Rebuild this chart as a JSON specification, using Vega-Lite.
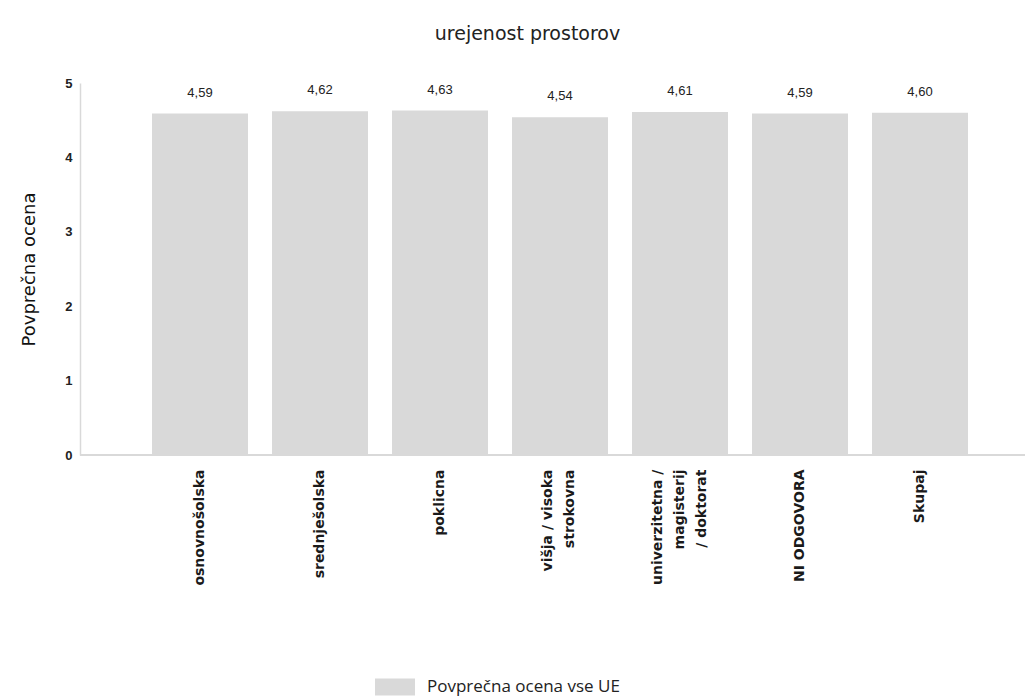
{
  "$schema": "https://vega.github.io/schema/vega-lite/v6.json",
  "autosize": {"type": "none"},
  "padding": {"left": 80, "top": 83, "right": 6, "bottom": 245},
  "width": 945,
  "height": 372,
  "background": "white",
  "title": {
    "text": "urejenost prostorov",
    "font": "DejaVu Sans",
    "fontSize": 19,
    "fontWeight": "normal",
    "color": "#222222",
    "anchor": "middle",
    "dx": -25,
    "offset": 33
  },
  "data": {
    "values": [
      {"kategorija": "osnovnošolska", "ocena": 4.59, "serija": "Povprečna ocena vse UE"},
      {"kategorija": "srednješolska", "ocena": 4.62, "serija": "Povprečna ocena vse UE"},
      {"kategorija": "poklicna", "ocena": 4.63, "serija": "Povprečna ocena vse UE"},
      {"kategorija": "višja / visoka strokovna", "ocena": 4.54, "serija": "Povprečna ocena vse UE"},
      {"kategorija": "univerzitetna / magisterij / doktorat", "ocena": 4.61, "serija": "Povprečna ocena vse UE"},
      {"kategorija": "NI ODGOVORA", "ocena": 4.59, "serija": "Povprečna ocena vse UE"},
      {"kategorija": "Skupaj", "ocena": 4.60, "serija": "Povprečna ocena vse UE"}
    ]
  },
  "encoding": {
    "x": {
      "field": "kategorija",
      "type": "nominal",
      "sort": null,
      "scale": {"range": [60, 900], "paddingInner": 0.2, "paddingOuter": 0.1},
      "axis": {
        "title": null,
        "labelAngle": -90,
        "labelAlign": "right",
        "labelBaseline": "middle",
        "labelFont": "DejaVu Sans",
        "labelFontSize": 14,
        "labelFontWeight": "bold",
        "labelColor": "#1a1a1a",
        "labelPadding": 14,
        "labelLineHeight": 22,
        "labelLimit": 300,
        "labelOffset": {
          "condition": [
            {"test": "datum.value == 'višja / visoka strokovna'", "value": -12},
            {"test": "datum.value == 'univerzitetna / magisterij / doktorat'", "value": -22}
          ],
          "value": 0
        },
        "ticks": false,
        "domain": false,
        "labelExpr": "datum.label == 'višja / visoka strokovna' ? ['višja / visoka', 'strokovna'] : datum.label == 'univerzitetna / magisterij / doktorat' ? ['univerzitetna /', 'magisterij', '/ doktorat'] : datum.label"
      }
    },
    "y": {
      "field": "ocena",
      "type": "quantitative",
      "scale": {"domain": [0, 5], "nice": false},
      "axis": {
        "title": "Povprečna ocena",
        "titleFont": "DejaVu Sans",
        "titleFontSize": 18,
        "titleFontWeight": "normal",
        "titleColor": "#111111",
        "titlePadding": 26,
        "values": [0, 1, 2, 3, 4, 5],
        "labelFont": "Liberation Sans",
        "labelFontSize": 13,
        "labelFontWeight": "bold",
        "labelColor": "#222222",
        "labelPadding": 8,
        "ticks": false,
        "grid": false,
        "domainColor": "#d9d9d9",
        "domainWidth": 1.5
      }
    }
  },
  "layer": [
    {
      "mark": {"type": "bar", "color": "#d9d9d9"},
      "encoding": {
        "color": {
          "field": "serija",
          "type": "nominal",
          "scale": {"range": ["#d9d9d9"]},
          "legend": {
            "title": null,
            "orient": "none",
            "legendX": 295,
            "legendY": 584,
            "symbolType": "M-1,-0.425H1V0.425H-1Z",
            "symbolSize": 1600,
            "symbolStrokeWidth": 0,
            "labelFont": "Open Sans",
            "labelFontSize": 17,
            "labelColor": "#222222",
            "labelOffset": 12,
            "labelLimit": 400
          }
        }
      }
    },
    {
      "mark": {"type": "rule", "color": "#d9d9d9", "strokeWidth": 1.5},
      "encoding": {
        "y": {"datum": 0, "type": "quantitative"},
        "x": null
      }
    },
    {
      "mark": {
        "type": "text",
        "baseline": "bottom",
        "dy": -14,
        "font": "Liberation Sans",
        "fontSize": 13,
        "color": "#222222"
      },
      "encoding": {
        "text": {"field": "ocena", "type": "quantitative", "format": ".2f"}
      }
    }
  ],
  "config": {
    "view": {"stroke": null},
    "locale": {
      "number": {"decimal": ",", "thousands": ".", "grouping": [3], "currency": ["", " €"]}
    }
  }
}
